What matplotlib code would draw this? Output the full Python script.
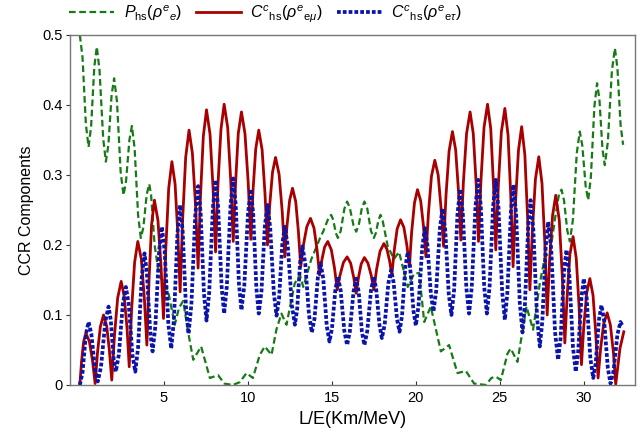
import matplotlib
matplotlib.use("Agg")
import matplotlib.pyplot as plt

# ---------------------------------------------------------------
# (L/E, value) pairs
# ---------------------------------------------------------------
green_pts = [(0, 0.50), (0.16, 0.468), (0.36, 0.372), (0.52, 0.340), (0.67, 0.369), (0.86, 0.454),
             (1.01, 0.483), (1.17, 0.450), (1.39, 0.352), (1.55, 0.319), (1.70, 0.343), (1.89, 0.414),
             (2.04, 0.438), (2.21, 0.405), (2.43, 0.304), (2.60, 0.271), (2.75, 0.291), (2.95, 0.350),
             (3.10, 0.370), (3.26, 0.338), (3.47, 0.242), (3.63, 0.210), (3.78, 0.225), (3.98, 0.272),
             (4.13, 0.287), (4.24, 0.272), (4.45, 0.200), (4.72, 0.155), (5.0, 0.148), (5.28, 0.131),
             (5.65, 0.086), (5.9, 0.110), (6.15, 0.120), (6.45, 0.075), (6.75, 0.036), (7.22, 0.055),
             (7.74, 0.010), (8.23, 0.014), (8.6, 0.002), (9.1, 0.0), (9.52, 0.004), (9.92, 0.017),
             (10.3, 0.010), (10.71, 0.043), (11.01, 0.055), (11.41, 0.043), (11.7, 0.079), (12.0, 0.102),
             (12.3, 0.086), (12.79, 0.145), (13.1, 0.157), (13.3, 0.140), (13.77, 0.179), (14.3, 0.210),
             (14.5, 0.220), (14.76, 0.236), (14.96, 0.243), (15.08, 0.236), (15.24, 0.217), (15.36, 0.210),
             (15.53, 0.220), (15.75, 0.252), (15.91, 0.262), (16.07, 0.253), (16.29, 0.228), (16.45, 0.219),
             (16.60, 0.228), (16.79, 0.253), (16.94, 0.262), (17.11, 0.252), (17.33, 0.220), (17.5, 0.210),
             (17.62, 0.217), (17.78, 0.236), (17.9, 0.243), (18.03, 0.234), (18.33, 0.198), (18.7, 0.180),
             (19.0, 0.190), (19.52, 0.140), (19.9, 0.159), (20.2, 0.160), (20.5, 0.090), (20.89, 0.112),
             (21.49, 0.048), (21.98, 0.057), (22.48, 0.017), (22.98, 0.020), (23.47, 0.002), (24.17, 0.0),
             (24.5, 0.010), (24.76, 0.012), (25.06, 0.007), (25.46, 0.045), (25.65, 0.052), (26.05, 0.033),
             (26.59, 0.112), (26.98, 0.079), (27.38, 0.145), (27.68, 0.183), (28.0, 0.190), (28.3, 0.240),
             (28.52, 0.272), (28.67, 0.279), (28.82, 0.264), (29.02, 0.220), (29.17, 0.205), (29.35, 0.236),
             (29.58, 0.331), (29.76, 0.362), (29.91, 0.342), (30.11, 0.284), (30.26, 0.264), (30.42, 0.297),
             (30.63, 0.398), (30.79, 0.431), (30.93, 0.408), (31.11, 0.337), (31.25, 0.314), (31.43, 0.347),
             (31.67, 0.448), (31.85, 0.481), (32.0, 0.453), (32.19, 0.371), (32.34, 0.343)]

red_pts = [(0, 0.0),
           (0.10, 0.033), (0.22, 0.061), (0.36, 0.074), (0.57, 0.062), (0.76, 0.034), (0.91, 0.002),
           (1.05, 0.046), (1.22, 0.083), (1.41, 0.100), (1.60, 0.084), (1.76, 0.049), (1.90, 0.007),
           (2.06, 0.070), (2.25, 0.124), (2.46, 0.148), (2.64, 0.127), (2.81, 0.081), (2.94, 0.026),
           (3.08, 0.107), (3.26, 0.175), (3.45, 0.205), (3.66, 0.180), (3.84, 0.124), (3.99, 0.057),
           (4.12, 0.150), (4.27, 0.229), (4.44, 0.264), (4.65, 0.235), (4.83, 0.171), (4.98, 0.095),
           (5.12, 0.196), (5.29, 0.281), (5.48, 0.319), (5.67, 0.287), (5.83, 0.217), (5.97, 0.133),
           (6.12, 0.237), (6.30, 0.325), (6.50, 0.364), (6.70, 0.331), (6.89, 0.256), (7.04, 0.167),
           (7.18, 0.269), (7.35, 0.355), (7.54, 0.393), (7.75, 0.358), (7.93, 0.281), (8.08, 0.190),
           (8.22, 0.285), (8.40, 0.365), (8.59, 0.401), (8.80, 0.368), (8.98, 0.293), (9.13, 0.205),
           (9.27, 0.288), (9.43, 0.359), (9.62, 0.390), (9.83, 0.359), (10.02, 0.290), (10.18, 0.208),
           (10.31, 0.278), (10.47, 0.337), (10.65, 0.364), (10.85, 0.336), (11.02, 0.274), (11.17, 0.200),
           (11.30, 0.256), (11.47, 0.304), (11.65, 0.325), (11.86, 0.301), (12.05, 0.247), (12.20, 0.183),
           (12.33, 0.227), (12.49, 0.264), (12.66, 0.281), (12.85, 0.262), (13.01, 0.219), (13.15, 0.169),
           (13.31, 0.200), (13.51, 0.226), (13.73, 0.238), (13.94, 0.224), (14.12, 0.193), (14.27, 0.157),
           (14.41, 0.179), (14.57, 0.197), (14.76, 0.205), (14.97, 0.193), (15.16, 0.167), (15.32, 0.136),
           (15.49, 0.157), (15.69, 0.175), (15.91, 0.183), (16.12, 0.174), (16.30, 0.154), (16.45, 0.131),
           (16.59, 0.154), (16.75, 0.173), (16.94, 0.182), (17.15, 0.174), (17.34, 0.157), (17.50, 0.136),
           (17.67, 0.166), (17.87, 0.191), (18.10, 0.202), (18.28, 0.194), (18.44, 0.177), (18.57, 0.157),
           (18.72, 0.193), (18.89, 0.223), (19.09, 0.236), (19.29, 0.225), (19.47, 0.199), (19.62, 0.169),
           (19.75, 0.218), (19.92, 0.260), (20.10, 0.279), (20.29, 0.263), (20.46, 0.226), (20.60, 0.183),
           (20.75, 0.245), (20.93, 0.298), (21.13, 0.321), (21.33, 0.300), (21.50, 0.253), (21.65, 0.198),
           (21.80, 0.272), (21.98, 0.334), (22.18, 0.362), (22.37, 0.336), (22.54, 0.277), (22.68, 0.207),
           (22.83, 0.289), (23.02, 0.359), (23.23, 0.390), (23.42, 0.359), (23.59, 0.288), (23.73, 0.205),
           (23.88, 0.293), (24.06, 0.368), (24.27, 0.401), (24.46, 0.366), (24.62, 0.287), (24.76, 0.193),
           (24.91, 0.284), (25.09, 0.361), (25.30, 0.395), (25.49, 0.357), (25.65, 0.271), (25.79, 0.169),
           (25.93, 0.259), (26.11, 0.335), (26.30, 0.369), (26.49, 0.329), (26.65, 0.241), (26.79, 0.136),
           (26.94, 0.221), (27.12, 0.294), (27.32, 0.326), (27.51, 0.288), (27.68, 0.202), (27.82, 0.100),
           (27.96, 0.177), (28.14, 0.242), (28.33, 0.271), (28.54, 0.235), (28.72, 0.155), (28.87, 0.060),
           (29.01, 0.128), (29.17, 0.186), (29.36, 0.212), (29.55, 0.181), (29.72, 0.111), (29.86, 0.029),
           (30.00, 0.084), (30.17, 0.131), (30.36, 0.152), (30.55, 0.128), (30.71, 0.074), (30.85, 0.010),
           (31.00, 0.052), (31.18, 0.087), (31.39, 0.103), (31.58, 0.086), (31.76, 0.047), (31.90, 0.001),
           (32.15, 0.052), (32.38, 0.076)]

blue_pts = [(0, 0.0), (0.16, 0.018), (0.36, 0.072), (0.52, 0.090), (0.685, 0.073), (0.905, 0.022),
            (1.07, 0.005), (1.26, 0.026), (1.52, 0.091), (1.71, 0.112), (1.84, 0.093), (2.01, 0.038),
            (2.14, 0.019), (2.32, 0.043), (2.56, 0.116), (2.74, 0.140), (2.91, 0.116), (3.13, 0.043),
            (3.30, 0.019), (3.465, 0.053), (3.685, 0.154), (3.85, 0.188), (3.99, 0.160), (4.19, 0.076),
            (4.33, 0.048), (4.495, 0.084), (4.715, 0.190), (4.88, 0.226), (5.05, 0.191), (5.27, 0.087),
            (5.44, 0.052), (5.60, 0.093), (5.81, 0.216), (5.97, 0.257), (6.12, 0.220), (6.32, 0.110),
            (6.47, 0.073), (6.64, 0.115), (6.87, 0.242), (7.04, 0.284), (7.19, 0.246), (7.39, 0.130),
            (7.54, 0.092), (7.70, 0.132), (7.92, 0.253), (8.08, 0.293), (8.23, 0.255), (8.44, 0.140),
            (8.59, 0.102), (8.75, 0.141), (8.97, 0.256), (9.13, 0.295), (9.28, 0.257), (9.47, 0.145),
            (9.62, 0.107), (9.79, 0.142), (10.01, 0.245), (10.18, 0.280), (10.32, 0.244), (10.51, 0.138),
            (10.65, 0.102), (10.81, 0.133), (11.01, 0.226), (11.17, 0.257), (11.33, 0.225), (11.55, 0.131),
            (11.71, 0.099), (11.86, 0.124), (12.05, 0.201), (12.20, 0.226), (12.38, 0.198), (12.62, 0.114),
            (12.80, 0.086), (12.935, 0.108), (13.115, 0.176), (13.25, 0.198), (13.42, 0.173), (13.64, 0.100),
            (13.81, 0.075), (13.97, 0.095), (14.17, 0.154), (14.33, 0.174), (14.49, 0.152), (14.70, 0.084),
            (14.86, 0.062), (15.01, 0.081), (15.21, 0.136), (15.36, 0.155), (15.525, 0.135), (15.745, 0.077),
            (15.91, 0.057), (16.07, 0.076), (16.29, 0.133), (16.45, 0.152), (16.60, 0.133), (16.79, 0.076),
            (16.94, 0.057), (17.11, 0.077), (17.33, 0.135), (17.50, 0.155), (17.64, 0.137), (17.84, 0.085),
            (17.98, 0.067), (18.145, 0.086), (18.365, 0.145), (18.53, 0.164), (18.68, 0.146), (18.88, 0.094),
            (19.03, 0.076), (19.18, 0.099), (19.37, 0.167), (19.52, 0.190), (19.66, 0.169), (19.86, 0.106),
            (20.00, 0.085), (20.16, 0.113), (20.38, 0.196), (20.54, 0.224), (20.69, 0.200), (20.90, 0.129),
            (21.05, 0.105), (21.21, 0.134), (21.43, 0.223), (21.59, 0.252), (21.75, 0.222), (21.96, 0.130),
            (22.12, 0.100), (22.28, 0.136), (22.48, 0.244), (22.64, 0.280), (22.80, 0.244), (23.01, 0.138),
            (23.17, 0.102), (23.33, 0.140), (23.55, 0.255), (23.71, 0.293), (23.87, 0.255), (24.07, 0.140),
            (24.23, 0.102), (24.39, 0.140), (24.60, 0.255), (24.76, 0.293), (24.92, 0.253), (25.14, 0.133),
            (25.30, 0.093), (25.45, 0.132), (25.66, 0.247), (25.81, 0.286), (25.97, 0.244), (26.19, 0.117),
            (26.35, 0.075), (26.49, 0.113), (26.69, 0.226), (26.83, 0.264), (26.995, 0.222), (27.215, 0.097),
            (27.38, 0.055), (27.53, 0.091), (27.73, 0.197), (27.88, 0.233), (28.06, 0.194), (28.29, 0.075),
            (28.47, 0.036), (28.62, 0.067), (28.82, 0.162), (28.97, 0.193), (29.135, 0.158), (29.355, 0.054),
            (29.52, 0.019), (29.66, 0.046), (29.86, 0.125), (30.00, 0.152), (30.17, 0.124), (30.39, 0.038),
            (30.56, 0.010), (30.71, 0.031), (30.90, 0.093), (31.05, 0.114), (31.21, 0.092), (31.43, 0.024),
            (31.59, 0.002), (31.77, 0.020), (32.00, 0.072), (32.18, 0.090), (32.34, 0.083)]

labels = [r"$P_{\mathrm{hs}}(\rho^{e}{}_{e})$",
          r"$C^{c}{}_{\mathrm{hs}}(\rho^{e}{}_{\mathrm{e}\mu})$",
          r"$C^{c}{}_{\mathrm{hs}}(\rho^{e}{}_{\mathrm{e}\tau})$"]
ytick_vals = [0, 0.1, 0.2, 0.3, 0.4, 0.5]
ytick_text = ['0', '0.1', '0.2', '0.3', '0.4', '0.5']
xtick_vals = [5, 10, 15, 20, 25, 30]

plt.rcParams['font.family'] = ['Liberation Sans', 'DejaVu Sans']
plt.rcParams['mathtext.fontset'] = 'custom'
plt.rcParams['mathtext.rm'] = 'Liberation Sans'
plt.rcParams['mathtext.it'] = 'Liberation Sans:italic'
plt.rcParams['mathtext.bf'] = 'Liberation Sans:bold'

fig = plt.figure(figsize=(6.4, 4.42), dpi=100)
ax = fig.add_axes([0.109, 0.129, 0.883, 0.792])

gx, gy = zip(*green_pts)
rx, ry = zip(*red_pts)
bx, by = zip(*blue_pts)

ax.plot(gx, gy, color='#177a17', lw=1.6, ls=(0, (3.0, 1.6)), label=labels[0])
ax.plot(rx, ry, color='#a80000', lw=2.0, solid_joinstyle='round', label=labels[1])
ax.plot(bx, by, color='#0a14a8', lw=2.7, ls=(0, (1.0, 0.55)),
        dash_capstyle='butt', label=labels[2])

ax.set_xlim(-0.6, 33.04)
ax.set_ylim(0, 0.5)
ax.set_xticks(xtick_vals)
ax.set_yticks(ytick_vals)
ax.set_yticklabels(ytick_text)
ax.tick_params(axis='x', direction='in', length=3, labelsize=10.5, color='#333333', pad=4)
ax.tick_params(axis='y', direction='out', length=3, labelsize=10.5, color='#333333', pad=2)
for sp in ax.spines.values():
    sp.set_color('#777777')
    sp.set_linewidth(1.0)

ax.set_xlabel('L/E(Km/MeV)', fontsize=13, labelpad=5)
ax.set_ylabel('CCR Components', fontsize=11.5, labelpad=6)

fig.legend(loc='upper center', bbox_to_anchor=(0.415, 1.025), ncol=3, frameon=False,
           fontsize=11.5, handlelength=2.8, columnspacing=0.9, handletextpad=0.6)

fig.savefig('out.png', dpi=100)
